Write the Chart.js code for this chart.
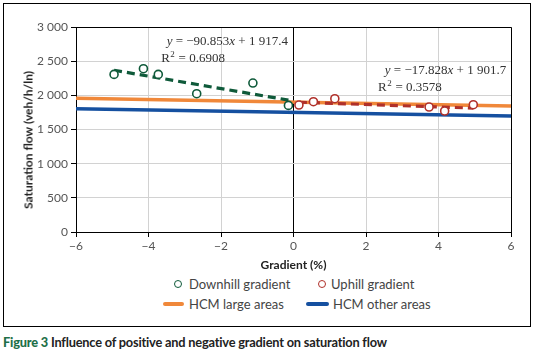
<!DOCTYPE html>
<html>
<head>
<meta charset="utf-8">
<script src="https://cdn.jsdelivr.net/npm/chart.js@4.4.1/dist/chart.umd.min.js"></script>
<style>
  html,body{margin:0;padding:0;background:#fff;}
  body{width:538px;height:355px;position:relative;overflow:hidden;font-family:Lato,"Open Sans",sans-serif;}
  #frame{position:absolute;left:3px;top:3px;width:528px;height:324px;box-sizing:border-box;border:1px solid #000;}
  #wrap{position:absolute;left:0;top:0;width:538px;height:272px;}
  #ytitle{position:absolute;left:28px;top:140px;transform:translate(-50%,-50%) rotate(-90deg);white-space:nowrap;font:bold 12px Lato,sans-serif;color:#222;}
  .lg{position:absolute;font:13px Lato,sans-serif;color:#444;white-space:nowrap;line-height:16px;}
  .dot{position:absolute;width:6px;height:6px;border-radius:50%;border:1.6px solid;background:#fff;}
  .bar{position:absolute;height:4px;border-radius:2px;}
  #caption{position:absolute;left:3px;top:334px;font:bold 12.8px Lato,sans-serif;color:#222;white-space:nowrap;letter-spacing:-0.2px;}
  #caption b{color:#1e7048;}
</style>
</head>
<body>
<div id="frame"></div>
<div id="wrap"><canvas id="c"></canvas></div>
<div id="ytitle">Saturation flow (veh/h/ln)</div>

<div class="dot" style="left:174px;top:280px;border-color:#0f5a3a"></div>
<div class="lg" style="left:189px;top:276px">Downhill gradient</div>
<div class="dot" style="left:318px;top:280px;border-color:#b0302a"></div>
<div class="lg" style="left:331px;top:276px">Uphill gradient</div>
<div class="bar" style="left:163px;top:302px;width:21px;background:#f0883a"></div>
<div class="lg" style="left:189px;top:296px">HCM large areas</div>
<div class="bar" style="left:306px;top:302px;width:23px;background:#1550a0"></div>
<div class="lg" style="left:333px;top:296px">HCM other areas</div>

<div id="caption"><b>Figure 3</b> Influence of positive and negative gradient on saturation flow</div>

<script>
// observed points (gradient %, veh/h/ln)
const downhillX = [-4.95, -4.14, -3.73, -2.67, -1.12, -0.14];
const downhillY = [2306, 2390, 2306, 2024, 2180, 1853];
const uphillX = [0.15, 0.55, 1.14, 3.74, 4.17, 4.96];
const uphillY = [1858, 1907, 1951, 1829, 1771, 1863];
// trend line end points as drawn
const downTrendX = [-4.95, -0.14];
const downTrendY = [2367, 1930];
const upTrendX = [0.15, 4.96];
const upTrendY = [1899, 1813];
// HCM reference lines
const hcmX = [-6, 6];
const hcmLargeY = [1957, 1843];
const hcmOtherY = [1803, 1698];
// axis ticks
const xTicks = [-6, -4, -2, 0, 2, 4, 6];
const yTicks = [0, 500, 1000, 1500, 2000, 2500, 3000];
// trendline labels [x, y, equation, x, y, r2]
const labelDown = [-3.5, 2790, 'y = \u221290.853x + 1 917.4', -3.65, 2535, '0.6908'];
const labelUp = [2.52, 2365, 'y = \u221217.828x + 1 901.7', 2.33, 2107, '0.3578'];

function pts(xs, ys){ return xs.map(function(x,i){ return {x:x, y:ys[i]}; }); }
function fmtY(v){ return v >= 1000 ? Math.floor(v/1000) + ' ' + String(v%1000).padStart(3,'0') : String(v); }

const GREEN = '#0f5a3a', RED = '#b0302a', ORANGE = '#f0883a', BLUE = '#1550a0';

const frameBox = {
  id:'frameBox',
  afterDatasetsDraw(chart){
    const a = chart.chartArea, ctx = chart.ctx;
    ctx.save(); ctx.strokeStyle = '#000'; ctx.lineWidth = 1;
    ctx.beginPath();
    ctx.moveTo(a.left, a.top + 0.5); ctx.lineTo(a.right + 0.5, a.top + 0.5); ctx.lineTo(a.right + 0.5, a.bottom);
    ctx.stroke(); ctx.restore();
  }
};

const eqLabels = {
  id:'eqLabels',
  afterDraw(chart){
    const ctx = chart.ctx, xs = chart.scales.x, ys = chart.scales.y;
    ctx.save(); ctx.fillStyle = '#333'; ctx.textBaseline = 'middle';
    [labelDown, labelUp].forEach(function(l){
      let px = xs.getPixelForValue(l[0]), py = ys.getPixelForValue(l[1]);
      const parts = l[2].split('x');
      ctx.font = 'italic 13px "Liberation Serif",serif';
      ctx.fillText('y', px, py); px += ctx.measureText('y').width;
      ctx.font = '13px "Liberation Serif",serif';
      const mid = parts[0].slice(1);
      ctx.fillText(mid, px, py); px += ctx.measureText(mid).width;
      ctx.font = 'italic 13px "Liberation Serif",serif';
      ctx.fillText('x', px, py); px += ctx.measureText('x').width;
      ctx.font = '13px "Liberation Serif",serif';
      ctx.fillText(parts[1], px, py);
      let rx = xs.getPixelForValue(l[3]), ry = ys.getPixelForValue(l[4]);
      ctx.fillText('R', rx, ry); rx += ctx.measureText('R').width;
      ctx.font = '9px "Liberation Serif",serif';
      ctx.fillText('2', rx + 0.5, ry - 4); rx += ctx.measureText('2').width + 1;
      ctx.font = '13px "Liberation Serif",serif';
      ctx.fillText(' = ' + l[5], rx, ry);
    });
    ctx.restore();
  }
};

new Chart(document.getElementById('c'), {
  type:'scatter',
  data:{datasets:[
    {label:'Downhill gradient', data:pts(downhillX, downhillY), order:0, pointRadius:4, pointBorderWidth:1.6,
      pointBackgroundColor:'#fff', borderColor:GREEN, backgroundColor:'#fff'},
    {label:'Uphill gradient', data:pts(uphillX, uphillY), order:0, pointRadius:4, pointBorderWidth:1.6,
      pointBackgroundColor:'#fff', borderColor:RED, backgroundColor:'#fff'},
    {label:'Downhill trend', data:pts(downTrendX, downTrendY), order:1, showLine:true, pointRadius:0,
      borderColor:GREEN, borderWidth:3.2, borderDash:[8,5]},
    {label:'Uphill trend', data:pts(upTrendX, upTrendY), order:1, showLine:true, pointRadius:0,
      borderColor:RED, borderWidth:3.2, borderDash:[8,5]},
    {label:'HCM large areas', data:pts(hcmX, hcmLargeY), order:2, showLine:true, pointRadius:0,
      borderColor:ORANGE, borderWidth:3.5, clip:false},
    {label:'HCM other areas', data:pts(hcmX, hcmOtherY), order:3, showLine:true, pointRadius:0,
      borderColor:BLUE, borderWidth:3.5, clip:false}
  ]},
  options:{responsive:true, maintainAspectRatio:false, animation:false,
    layout:{padding:{left:0, right:27, top:27, bottom:0}},
    plugins:{legend:{display:false}, tooltip:{enabled:false}},
    scales:{
      x:{type:'linear', min:-6, max:6,
        afterBuildTicks(s){ s.ticks = xTicks.map(function(v){ return {value:v}; }); },
        afterFit(s){ s.height = 40; },
        ticks:{color:'#555', padding:2, font:{family:'Lato', size:12},
          callback:function(v){ return v < 0 ? '\u2212' + Math.abs(v) : String(v); }},
        grid:{color:function(c){ return c.tick && c.tick.value === 0 ? '#000' : '#d2d2d2'; }, tickColor:'#000', tickLength:5, lineWidth:1},
        border:{color:'#000', width:1},
        title:{display:true, text:'Gradient (%)', color:'#222', padding:0, font:{family:'Lato', size:12, weight:'bold'}}},
      y:{min:0, max:3000,
        afterBuildTicks(s){ s.ticks = yTicks.map(function(v){ return {value:v}; }); },
        afterFit(s){ s.width = 76; },
        ticks:{color:'#555', padding:3, font:{family:'Lato', size:12}, callback:fmtY},
        grid:{color:'#d2d2d2', tickColor:'#000', tickLength:5, lineWidth:1},
        border:{color:'#000', width:1}}
    }
  },
  plugins:[frameBox, eqLabels]
});
</script>
</body>
</html>
